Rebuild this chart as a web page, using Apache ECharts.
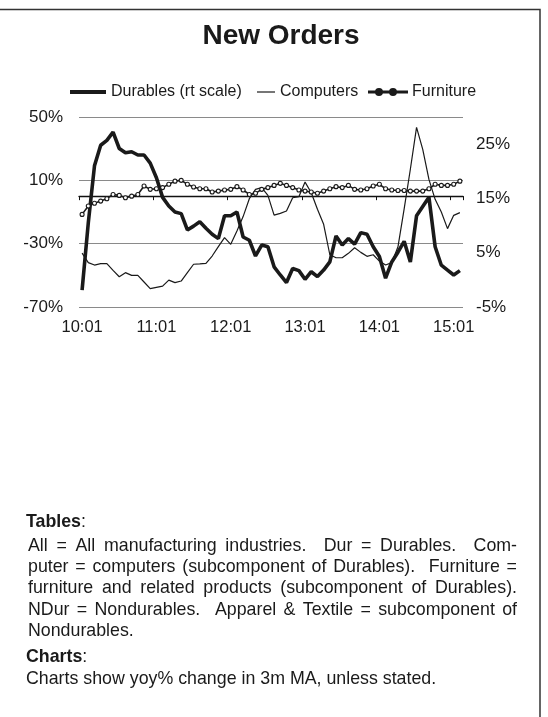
<!DOCTYPE html>
<html>
<head>
<meta charset="utf-8">
<script src="https://cdn.jsdelivr.net/npm/echarts@6/dist/echarts.min.js"></script>
<style>
  html, body { margin: 0; padding: 0; background: #fff; }
  #main { width: 548px; height: 717px; }
</style>
</head>
<body>
<div id="main"></div>
<script>
// months 10:01 .. 15:02
const categories = [
  "10:01","10:02","10:03","10:04","10:05","10:06","10:07","10:08","10:09","10:10","10:11","10:12",
  "11:01","11:02","11:03","11:04","11:05","11:06","11:07","11:08","11:09","11:10","11:11","11:12",
  "12:01","12:02","12:03","12:04","12:05","12:06","12:07","12:08","12:09","12:10","12:11","12:12",
  "13:01","13:02","13:03","13:04","13:05","13:06","13:07","13:08","13:09","13:10","13:11","13:12",
  "14:01","14:02","14:03","14:04","14:05","14:06","14:07","14:08","14:09","14:10","14:11","14:12",
  "15:01","15:02"
];

// right scale
const durables = [
  -1.9, 10.5, 21, 24.8, 25.7, 27.2, 24.2, 23.4, 23.6, 23, 23, 21.5,
  18.8, 15.2, 13.6, 12.5, 12.2, 9.2, 9.9, 10.7, 9.5, 8.4, 7.6, 11.8,
  11.8, 12.5, 7.9, 7.3, 4.4, 6.4, 6.1, 2.4, 0.9, -0.5, 2.1, 1.7,
  0.1, 1.5, 0.6, 1.8, 3.3, 8.1, 6.4, 7.6, 6.6, 8.7, 8.4, 6.1,
  4.3, 0.3, 3.3, 5.1, 7.1, 3.3, 11.8, 13.5, 15.2, 6.1, 2.7, 1.8,
  0.9, 1.7
];

const computers = [
  -36, -42, -43.5, -42.6, -42.6, -46.9, -50.9, -48.3, -50, -50, -54.2, -58.4,
  -57.6, -56.8, -53, -54.6, -53.6, -48.3, -43, -42.8, -42.5, -37.8, -31.9, -26.2,
  -30.4, -22, -12.9, -1.6, 4.3, 5.4, 0.5, -12, -10.9, -9.4, -1, -0.3,
  8.9, 2.2, -8.3, -17.8, -37, -38.9, -38.9, -36.1, -32.6, -35.5, -38, -37,
  -41, -43.5, -42, -32, -8, 17, 43.5, 29.6, 10.6, -2, -10, -20.5,
  -12.1, -10.4
];

const furniture = [
  -11.5, -6.2, -4.5, -3.1, -1.6, 1.1, 0.5, -1, 0, 1.1, 6.4, 4.3,
  4.7, 5.4, 7.5, 9.5, 10, 7.5, 5.8, 4.7, 4.7, 2.6, 3.2, 3.9,
  4.3, 6, 3.9, 1.1, 1.8, 4.3, 5.4, 6.8, 8.1, 6.8, 5.4, 3.9,
  3.2, 2.6, 1.8, 3.2, 4.7, 6, 5.4, 6.8, 4.3, 3.9, 4.7, 6.4,
  7.5, 4.7, 3.9, 3.6, 3.6, 3.2, 3.2, 3.2, 4.7, 7.5, 6.8, 6.8,
  7.5, 9.5
];

const noteLines = [
  "All = All manufacturing industries.  Dur = Durables.  Com-",
  "puter = computers (subcomponent of Durables).  Furniture =",
  "furniture and related products (subcomponent of Durables).",
  "NDur = Nondurables.  Apparel & Textile = subcomponent of",
  "Nondurables."
];

const FONT = '"Liberation Sans", Arial, sans-serif';
const INK = "#1a1a1a";

// justified note text, one graphic text per word
const ctx = document.createElement("canvas").getContext("2d");
const noteSize = 17.8;
ctx.font = noteSize + "px " + FONT;
const noteLeft = 28, noteRight = 517;
const noteY = [546, 567, 588, 610, 631];
const noteText = [];
noteLines.forEach((line, li) => {
  const words = line.split(" ");
  const spaceW = ctx.measureText(" ").width;
  const wordsW = words.reduce((s, w) => s + ctx.measureText(w).width, 0);
  const gaps = words.length - 1;
  let gapW = spaceW;
  if (li < noteLines.length - 1 && gaps > 0) {
    gapW = (noteRight - noteLeft - wordsW) / gaps;
  }
  let x = noteLeft;
  words.forEach((w) => {
    if (w) {
      noteText.push({
        type: "text", x: x, y: noteY[li],
        style: { text: w, font: noteSize + "px " + FONT, fill: INK, verticalAlign: "middle" }
      });
    }
    x += ctx.measureText(w).width + gapW;
  });
});

const chart = echarts.init(document.getElementById("main"));

const legendText = { fontSize: 16, color: INK, fontFamily: FONT };
const axisText = { fontSize: 17, color: INK, fontFamily: FONT };

const option = {
  animation: false,
  backgroundColor: "#fff",
  grid: { left: 79, right: 85, top: 117, bottom: 410 },
  legend: [
    {
      left: 70, top: 84, padding: 0, itemWidth: 36, itemHeight: 4,
      textStyle: legendText,
      data: [{ name: "Durables (rt scale)", icon: "rect" }]
    },
    {
      left: 257, top: 84, padding: 0, itemWidth: 18, itemHeight: 1.2,
      textStyle: legendText,
      data: [{ name: "Computers", icon: "rect" }]
    },
    {
      left: 368, top: 84, padding: 0, itemWidth: 38, itemHeight: 6,
      textStyle: legendText,
      data: [{
        name: "Furniture",
        icon: "path://M0,2.4 L38,2.4 L38,3.6 L0,3.6 Z M10,3 m-3,0 a3,3 0 1,0 6,0 a3,3 0 1,0 -6,0 Z M24,3 m-3,0 a3,3 0 1,0 6,0 a3,3 0 1,0 -6,0 Z",
        itemStyle: { color: INK }
      }]
    }
  ],
  xAxis: [
    {
      type: "category",
      data: categories,
      position: "bottom",
      boundaryGap: true,
      axisLine: { show: false, onZero: false },
      axisTick: { show: false },
      axisLabel: Object.assign({ interval: 11, margin: 12 }, axisText, { fontSize: 16.5 }),
      splitLine: { show: false }
    },
    {
      type: "category",
      data: categories,
      position: "bottom",
      boundaryGap: true,
      axisLine: { show: true, onZero: true, onZeroAxisIndex: 0, lineStyle: { color: "#111", width: 1.3 } },
      axisTick: { show: true, interval: 11, length: 4, lineStyle: { color: "#111", width: 1 } },
      axisLabel: { show: false },
      splitLine: { show: false }
    }
  ],
  yAxis: [
    {
      type: "value",
      position: "left",
      min: -70, max: 50, interval: 40,
      axisLine: { show: false },
      axisTick: { show: false },
      axisLabel: Object.assign({ formatter: "{value}%", margin: 16 }, axisText),
      splitLine: { lineStyle: { color: "#8a8a8a", width: 1 } }
    },
    {
      type: "value",
      position: "right",
      min: -5, max: 30, interval: 10,
      axisLine: { show: false },
      axisTick: { show: false },
      axisLabel: Object.assign({ formatter: (v) => (v > 25 ? "" : v + "%"), margin: 13 }, axisText),
      splitLine: { show: false }
    }
  ],
  series: [
    {
      name: "Computers",
      type: "line",
      data: computers,
      yAxisIndex: 0,
      symbol: "none",
      lineStyle: { color: INK, width: 1.2 },
      itemStyle: { color: INK }
    },
    {
      name: "Furniture",
      type: "line",
      data: furniture,
      yAxisIndex: 0,
      symbol: "circle",
      symbolSize: 4,
      showSymbol: true,
      lineStyle: { color: INK, width: 1.6 },
      itemStyle: { color: "#fff", borderColor: INK, borderWidth: 1.1 }
    },
    {
      name: "Durables (rt scale)",
      type: "line",
      data: durables,
      yAxisIndex: 1,
      symbol: "none",
      lineStyle: { color: INK, width: 3.6 },
      itemStyle: { color: INK },
      z: 3
    }
  ],
  graphic: [
    {
      type: "rect", silent: true,
      shape: { x: -2, y: 9.5, width: 542, height: 720 },
      style: { fill: "none", stroke: "#333", lineWidth: 1.5 }
    },
    {
      type: "text", x: 281, y: 36,
      style: { text: "New Orders", font: "bold 28px " + FONT, fill: INK, align: "center", verticalAlign: "middle" }
    },
    {
      type: "text", x: 26, y: 522,
      style: {
        text: "{b|Tables}:", font: noteSize + "px " + FONT, fill: INK, verticalAlign: "middle",
        rich: { b: { fontWeight: "bold", fontSize: noteSize, fontFamily: FONT, fill: INK } }
      }
    },
    {
      type: "text", x: 26, y: 657,
      style: {
        text: "{b|Charts}:", font: noteSize + "px " + FONT, fill: INK, verticalAlign: "middle",
        rich: { b: { fontWeight: "bold", fontSize: noteSize, fontFamily: FONT, fill: INK } }
      }
    },
    {
      type: "text", x: 26, y: 679,
      style: { text: "Charts show yoy% change in 3m MA, unless stated.", font: noteSize + "px " + FONT, fill: INK, verticalAlign: "middle" }
    }
  ].concat(noteText)
};

chart.setOption(option);
</script>
</body>
</html>
